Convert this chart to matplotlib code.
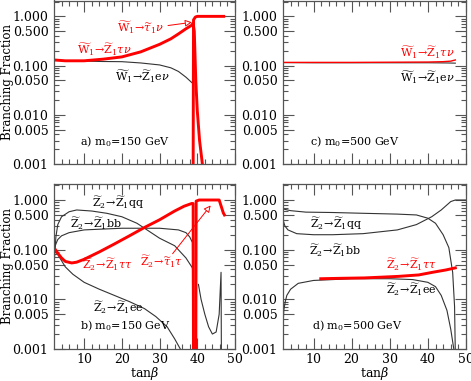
import matplotlib
matplotlib.use("Agg")
import matplotlib.pyplot as plt
from matplotlib.ticker import FixedLocator, FixedFormatter, NullFormatter

plt.rcParams["font.family"] = "DejaVu Serif"
plt.rcParams["mathtext.fontset"] = "dejavuserif"
plt.rcParams["font.size"] = 9

RED = "#ff0000"
BLK = "#333333"

# ---- a) chargino decays, m0=150 GeV
a_zen_x = [2, 5, 10, 15, 20, 25, 30, 33, 35, 37, 38.7]
a_zen_y = [0.13, 0.125, 0.123, 0.121, 0.12, 0.113, 0.103, 0.09, 0.076, 0.058, 0.044]
a_ztn_x = [2, 5, 10, 15, 20, 25, 30, 33, 35, 37, 38.5, 38.9, 39.2, 39.6, 40.0, 40.6, 41.5]
a_ztn_y = [0.13, 0.125, 0.125, 0.135, 0.15, 0.19, 0.27, 0.35, 0.44, 0.56, 0.66, 0.72, 0.5, 0.05, 0.012, 0.003, 0.0008]
a_tau_x = [38.9, 39.0, 39.5, 40.0, 44.0, 47.0]
a_tau_y = [0.0008, 0.85, 0.97, 1.0, 1.0, 1.0]

# ---- c) chargino decays, m0=500 GeV
c_zen_x = [2, 10, 20, 30, 40, 45, 47.2]
c_zen_y = [0.115, 0.114, 0.114, 0.114, 0.114, 0.113, 0.112]
c_ztn_x = [2, 10, 20, 30, 40, 44, 46, 47.2]
c_ztn_y = [0.116, 0.116, 0.116, 0.117, 0.118, 0.12, 0.123, 0.13]

# ---- b) neutralino decays, m0=150 GeV
b_qq_x = [2, 2.5, 3, 4, 6, 8, 12, 16, 20, 24, 26, 30, 34, 37, 38.7, 38.9, 39.0]
b_qq_y = [0.047, 0.18, 0.32, 0.46, 0.58, 0.63, 0.6, 0.54, 0.46, 0.34, 0.27, 0.17, 0.12, 0.068, 0.043, 0.03, 0.0005]
b_bb_x = [2, 2.5, 3, 4, 6, 10, 15, 20, 25, 30, 35, 37, 38, 38.7, 38.8]
b_bb_y = [0.1, 0.13, 0.16, 0.19, 0.22, 0.25, 0.26, 0.27, 0.27, 0.27, 0.25, 0.22, 0.18, 0.14, 0.0005]
b_ee_x = [2, 3, 4, 5, 7, 10, 14, 18, 22, 26, 29, 32, 34, 35.5]
b_ee_y = [0.1, 0.08, 0.06, 0.045, 0.032, 0.022, 0.016, 0.012, 0.009, 0.0065, 0.0045, 0.0028, 0.0016, 0.001]
b_ztt_x = [2, 3, 4, 5, 6.7, 8, 10, 14, 18, 22, 26, 30, 34, 36.5, 38.5, 38.9, 39.0]
b_ztt_y = [0.11, 0.085, 0.068, 0.058, 0.054, 0.056, 0.064, 0.09, 0.13, 0.19, 0.28, 0.4, 0.6, 0.75, 0.85, 0.85, 0.0005]
b_tau_x = [39.6, 39.7, 40.5, 45.8, 46.9, 47.2]
b_tau_y = [0.0005, 0.95, 1.0, 1.0, 0.55, 0.5]
b_v_x = [40.3, 41, 42, 43, 44, 45, 45.8, 46.3, 46.4]
b_v_y = [0.02, 0.01, 0.005, 0.0028, 0.002, 0.0022, 0.005, 0.035, 0.0005]

# ---- d) neutralino decays, m0=500 GeV
d_qq_x = [2, 4, 8, 15, 23, 32, 37, 40, 42, 44, 45.5, 46.5, 47, 47.2]
d_qq_y = [0.66, 0.61, 0.57, 0.56, 0.54, 0.52, 0.5, 0.43, 0.34, 0.2, 0.11, 0.035, 0.0072, 0.0008]
d_bb_x = [2, 2.5, 3.3, 5.6, 10, 15, 23, 32, 37, 41, 43.5, 46, 47.2, 50]
d_bb_y = [0.4, 0.3, 0.25, 0.21, 0.2, 0.2, 0.21, 0.25, 0.32, 0.46, 0.63, 0.93, 1.0, 1.0]
d_ee_x = [2, 2.2, 2.6, 3, 4, 6, 10, 20, 30, 36, 40, 42, 43.5, 45, 46, 46.8]
d_ee_y = [0.0025, 0.006, 0.009, 0.012, 0.016, 0.021, 0.024, 0.026, 0.026, 0.025, 0.022, 0.018, 0.012, 0.006, 0.0025, 0.001]
d_ztt_x = [11.9, 17, 23.4, 28, 32.3, 37.6, 41.2, 44.7, 47.2]
d_ztt_y = [0.026, 0.0265, 0.027, 0.028, 0.029, 0.031, 0.035, 0.039, 0.043]

ytick_vals = [0.001, 0.005, 0.010, 0.050, 0.100, 0.500, 1.000]
ytick_labels = ["0.001", "0.005", "0.010", "0.050", "0.100", "0.500", "1.000"]

W = r"\widetilde{\mathrm{W}}_1"
Z1 = r"\widetilde{\mathrm{Z}}_1"
Z2 = r"\widetilde{\mathrm{Z}}_2"
T1 = r"\widetilde{\tau}_1"
AR = r"\!\rightarrow\!"
LBL = 8      # curve labels
PAN = 8      # panel labels

fig = plt.figure(figsize=(4.71, 3.81), dpi=100)
W_PX, H_PX = 471, 381


def make_ax(x0, y0, x1, y1):
    ax = fig.add_axes([x0 / W_PX, 1 - y1 / H_PX, (x1 - x0) / W_PX, (y1 - y0) / H_PX])
    ax.set_yscale("log")
    ax.set_xlim(2, 50)
    ax.set_ylim(0.001, 2.1)
    ax.yaxis.set_major_locator(FixedLocator(ytick_vals))
    ax.yaxis.set_major_formatter(FixedFormatter(ytick_labels))
    minors = [m * 10.0 ** e for e in range(-3, 1) for m in (2, 3, 4, 6, 7, 8, 9)]
    ax.yaxis.set_minor_locator(FixedLocator(minors))
    ax.yaxis.set_minor_formatter(NullFormatter())
    ax.xaxis.set_major_locator(FixedLocator([10, 20, 30, 40, 50]))
    ax.xaxis.set_minor_locator(FixedLocator(list(range(4, 50, 2))))
    ax.tick_params(which="both", direction="in", top=True, right=True, color="#555555", labelsize=9)
    ax.tick_params(which="major", length=8, width=0.8)
    ax.tick_params(which="minor", length=3.5, width=0.8)
    ax.tick_params(axis="x", pad=3)
    ax.tick_params(axis="y", pad=4)
    for s in ax.spines.values():
        s.set_color("#555555")
        s.set_linewidth(0.9)
    return ax


ax_a = make_ax(54, 0.5, 235, 164)
ax_c = make_ax(283, 0.5, 466, 164)
ax_b = make_ax(54, 184, 235, 349)
ax_d = make_ax(283, 184, 466, 349)

for ax in (ax_a, ax_c):
    ax.set_xticklabels([])
for ax in (ax_b, ax_d):
    ax.set_xlabel(r"tan$\beta$")
    ax.xaxis.set_label_coords(0.5, -0.095)
for ax in (ax_a, ax_b):
    ax.set_ylabel("Branching Fraction", fontsize=8.5, va="center")
    ax.yaxis.set_label_coords(-0.255, 0.5)

# panel a
ax_a.plot(a_zen_x, a_zen_y, color=BLK, lw=0.8)
ax_a.plot(a_ztn_x, a_ztn_y, color=RED, lw=2.1)
ax_a.plot(a_tau_x, a_tau_y, color=RED, lw=2.1)
ax_a.text(25, 0.6, "$" + W + AR + T1 + r"\nu$", color=RED, ha="center", va="center", fontsize=LBL)
ax_a.text(15.3, 0.21, "$" + W + AR + Z1 + r"\tau\nu$", color=RED, ha="center", va="center", fontsize=LBL)
ax_a.text(25.5, 0.06, "$" + W + AR + Z1 + r"\mathrm{e}\nu$", color="black", ha="center", va="center", fontsize=LBL)
ax_a.text(9, 0.0028, "a) m$_0$=150 GeV", ha="left", va="center", fontsize=PAN)
ax_a.annotate("", xy=(39.3, 0.77), xytext=(31.5, 0.64),
              arrowprops=dict(arrowstyle="-|>", color=RED, lw=0.7, fc="white", mutation_scale=10))

# panel c
ax_c.plot(c_zen_x, c_zen_y, color=BLK, lw=0.8)
ax_c.plot(c_ztn_x, c_ztn_y, color=RED, lw=1.0)
ax_c.text(39.9, 0.186, "$" + W + AR + Z1 + r"\tau\nu$", color=RED, ha="center", va="center", fontsize=LBL)
ax_c.text(40, 0.058, "$" + W + AR + Z1 + r"\mathrm{e}\nu$", color="black", ha="center", va="center", fontsize=LBL)
ax_c.text(9.2, 0.0028, "c) m$_0$=500 GeV", ha="left", va="center", fontsize=PAN)

# panel b
ax_b.plot(b_qq_x, b_qq_y, color=BLK, lw=0.8)
ax_b.plot(b_bb_x, b_bb_y, color=BLK, lw=0.8)
ax_b.plot(b_ee_x, b_ee_y, color=BLK, lw=0.8)
ax_b.plot(b_v_x, b_v_y, color=BLK, lw=0.8)
ax_b.plot(b_ztt_x, b_ztt_y, color=RED, lw=2.1)
ax_b.plot(b_tau_x, b_tau_y, color=RED, lw=2.1)
ax_b.text(19.1, 0.87, "$" + Z2 + AR + Z1 + r"\mathrm{qq}$", ha="center", va="center", fontsize=LBL)
ax_b.text(13.2, 0.33, "$" + Z2 + AR + Z1 + r"\mathrm{bb}$", ha="center", va="center", fontsize=LBL)
ax_b.text(16.1, 0.05, "$" + Z2 + AR + Z1 + r"\tau\tau$", color=RED, ha="center", va="center", fontsize=LBL)
ax_b.text(30.5, 0.057, "$" + Z2 + AR + T1 + r"\tau$", color=RED, ha="center", va="center", fontsize=LBL)
ax_b.text(19.1, 0.0069, "$" + Z2 + AR + Z1 + r"\mathrm{ee}$", ha="center", va="center", fontsize=LBL)
ax_b.text(9, 0.0029, "b) m$_0$=150 GeV", ha="left", va="center", fontsize=PAN)
ax_b.annotate("", xy=(44, 0.86), xytext=(33, 0.075),
              arrowprops=dict(arrowstyle="-|>", color=RED, lw=0.7, fc="white", mutation_scale=10))

# panel d
ax_d.plot(d_qq_x, d_qq_y, color=BLK, lw=0.8)
ax_d.plot(d_bb_x, d_bb_y, color=BLK, lw=0.8)
ax_d.plot(d_ee_x, d_ee_y, color=BLK, lw=0.8)
ax_d.plot(d_ztt_x, d_ztt_y, color=RED, lw=2.1)
ax_d.text(15.9, 0.33, "$" + Z2 + AR + Z1 + r"\mathrm{qq}$", ha="center", va="center", fontsize=LBL)
ax_d.text(15.6, 0.095, "$" + Z2 + AR + Z1 + r"\mathrm{bb}$", ha="center", va="center", fontsize=LBL)
ax_d.text(35.6, 0.05, "$" + Z2 + AR + Z1 + r"\tau\tau$", color=RED, ha="center", va="center", fontsize=LBL)
ax_d.text(35.6, 0.016, "$" + Z2 + AR + Z1 + r"\mathrm{ee}$", ha="center", va="center", fontsize=LBL)
ax_d.text(9.7, 0.0029, "d) m$_0$=500 GeV", ha="left", va="center", fontsize=PAN)

fig.savefig("out.png", dpi=100)
